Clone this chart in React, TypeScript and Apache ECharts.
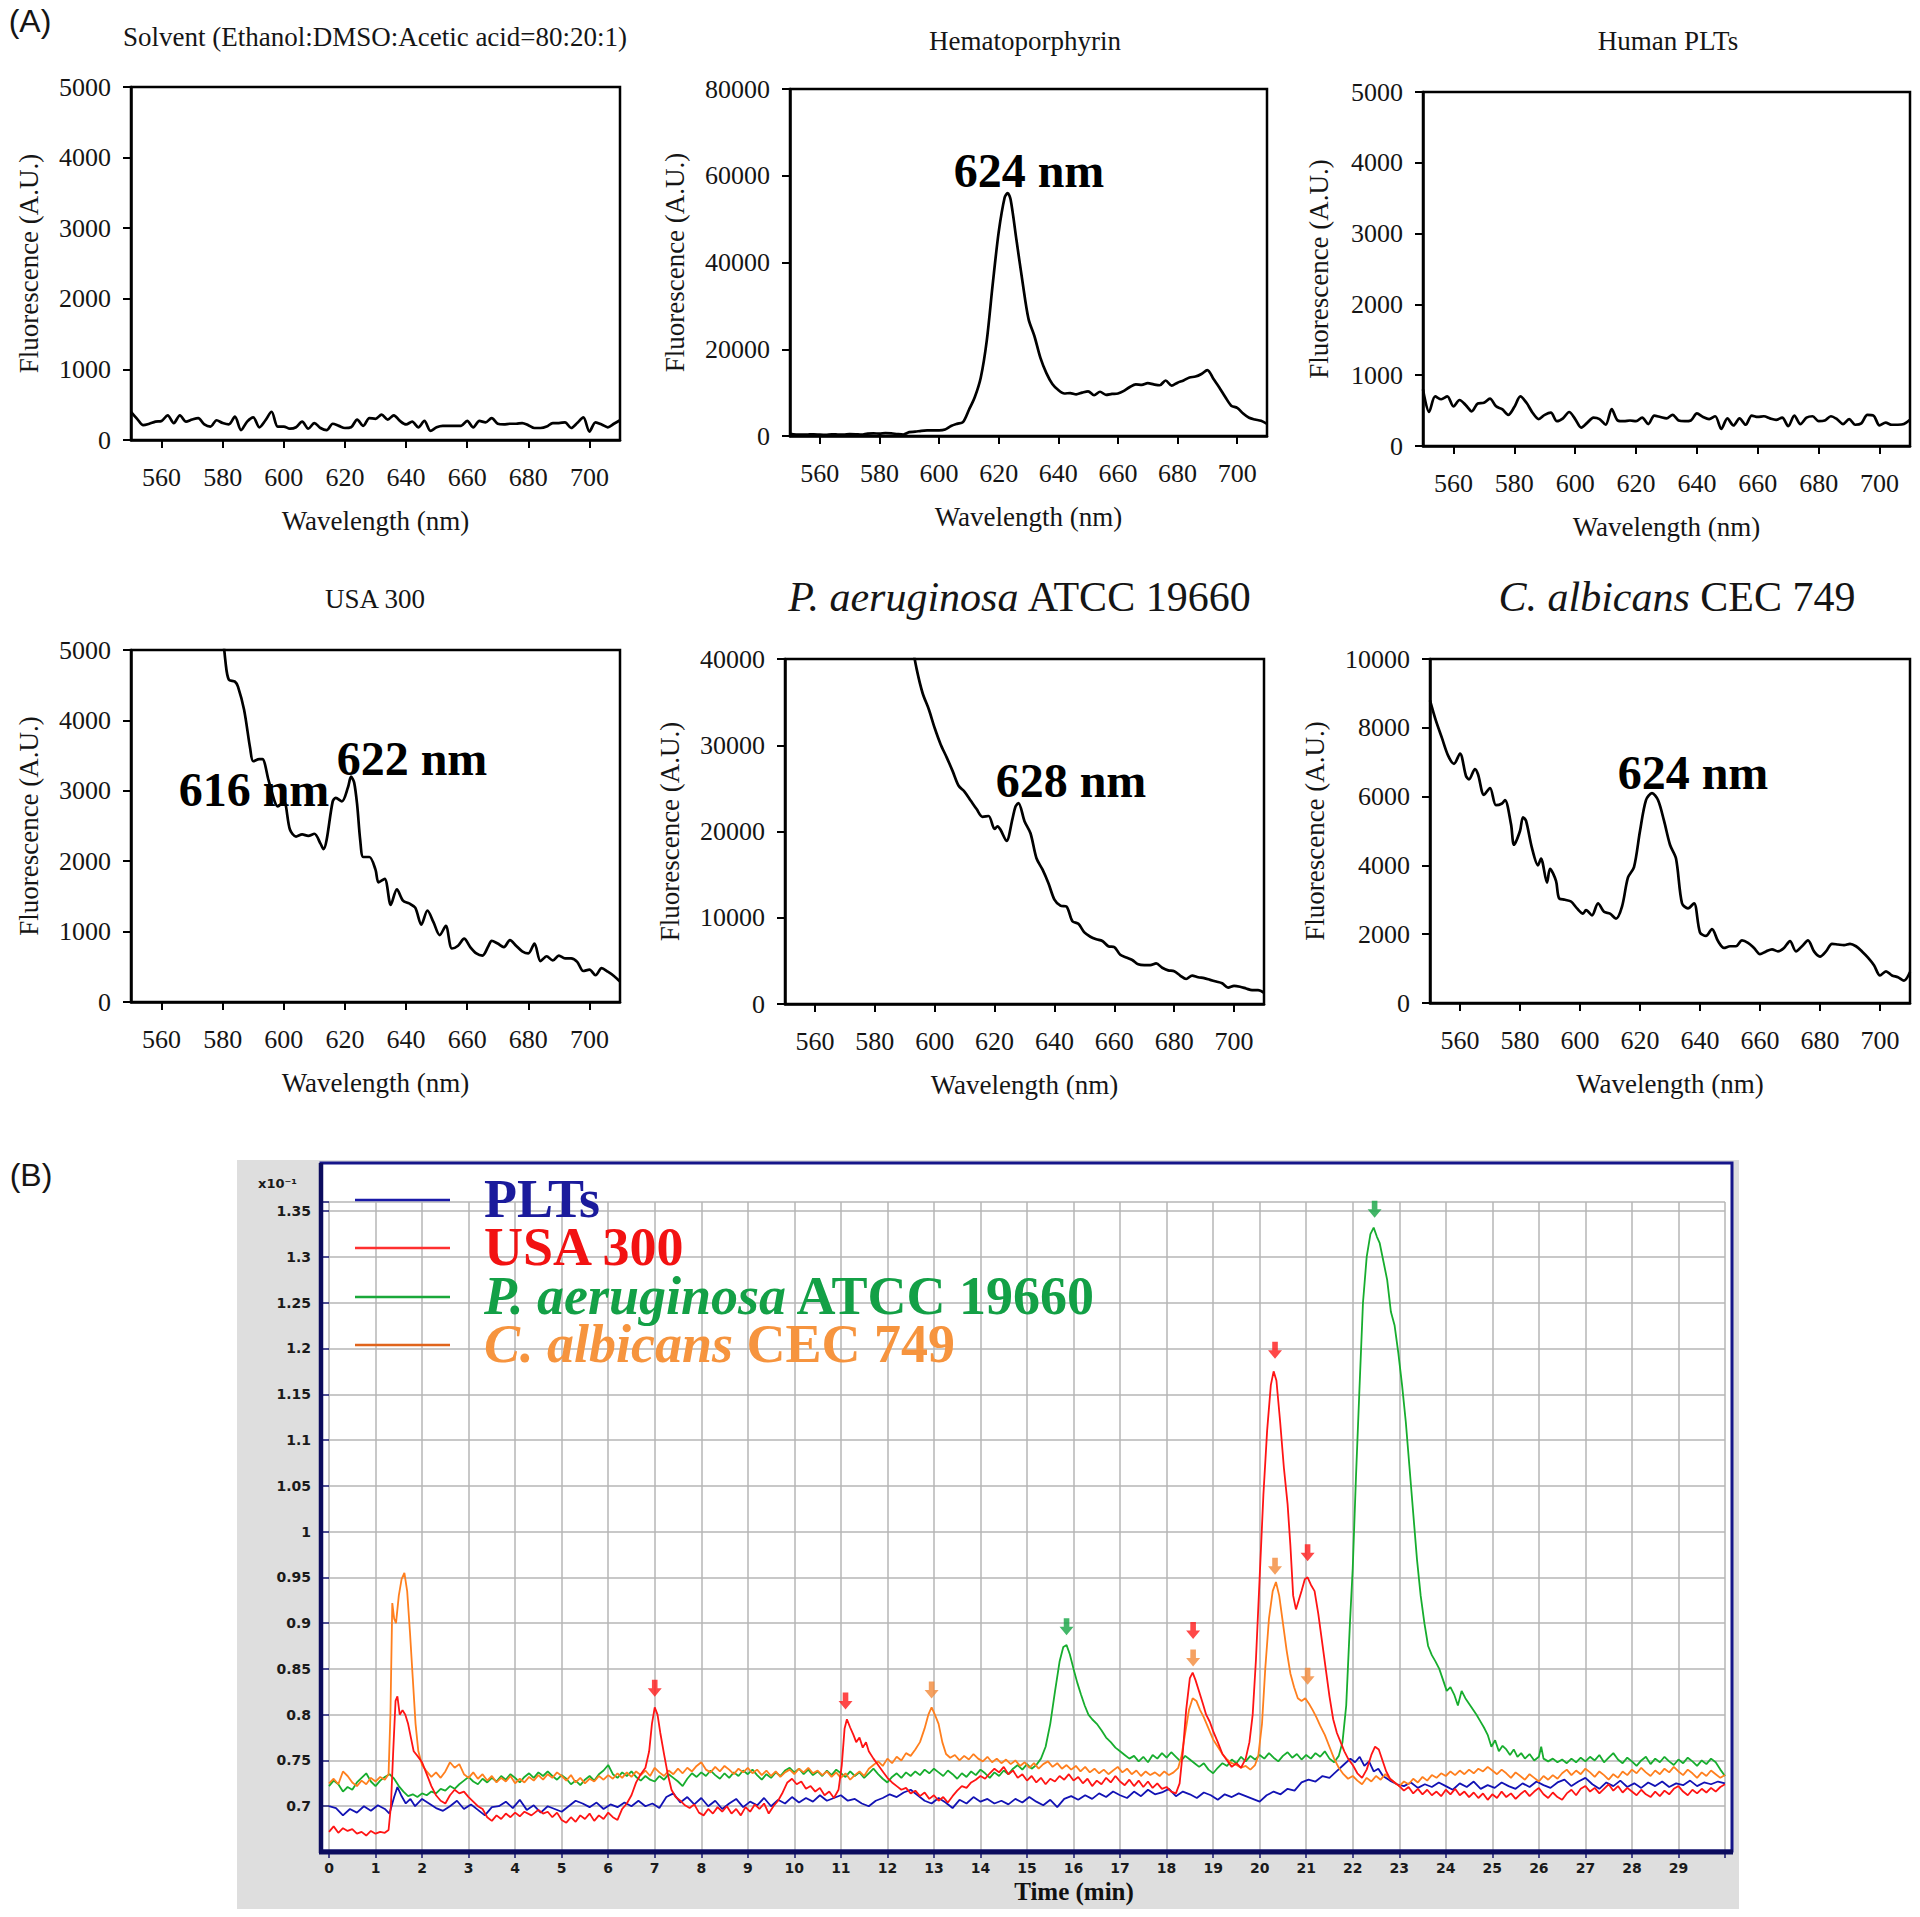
import React, { useEffect, useRef } from 'react';
import * as echarts from 'echarts';

const SERIF = '"Liberation Serif", "Times New Roman", serif';
const SANS = '"DejaVu Sans", Verdana, sans-serif';

// ---------- Panel A data ----------
const wavelengthTicks = [560, 580, 600, 620, 640, 660, 680, 700];

const solventSpectrum: [number, number][] = [
  [550, 400], [552, 300], [554, 210], [556, 230], [558, 260], [560, 270], [562, 350], [564, 240], [566, 350], [568, 260],
  [570, 290], [572, 310], [574, 220], [576, 190], [578, 280], [580, 240], [582, 220], [584, 330], [586, 140], [588, 260],
  [590, 320], [592, 180], [594, 280], [596, 400], [598, 190], [600, 190], [602, 160], [604, 180], [606, 260], [608, 160],
  [610, 240], [612, 170], [614, 140], [616, 230], [618, 200], [620, 170], [622, 180], [624, 290], [626, 200], [628, 310],
  [630, 300], [632, 360], [634, 290], [636, 350], [638, 270], [640, 220], [642, 260], [644, 180], [646, 270], [648, 130],
  [650, 180], [652, 200], [654, 200], [656, 200], [658, 200], [660, 270], [662, 180], [664, 270], [666, 250], [668, 310],
  [670, 230], [672, 220], [674, 230], [676, 230], [678, 240], [680, 210], [682, 170], [684, 170], [686, 190], [688, 240],
  [690, 240], [692, 250], [694, 170], [696, 240], [698, 320], [700, 120], [702, 250], [704, 220], [706, 180], [708, 230],
  [710, 280],
];

const hematoSpectrum: [number, number][] = [
  [550, 500], [552, 350], [554, 300], [556, 350], [558, 400], [560, 300], [562, 250], [564, 400], [566, 350], [568, 300],
  [570, 450], [572, 400], [574, 300], [576, 550], [578, 600], [580, 550], [582, 650], [584, 600], [586, 450], [588, 350],
  [590, 900], [592, 1000], [594, 1200], [596, 1300], [598, 1300], [600, 1300], [602, 1500], [604, 2300], [606, 2800], [608, 3200],
  [610, 6000], [612, 9000], [614, 13500], [616, 22000], [618, 35000], [620, 47000], [622, 55000], [623, 56000], [624, 54500], [626, 45000],
  [628, 35500], [630, 27000], [632, 23000], [634, 18000], [636, 14500], [638, 12000], [640, 10600], [642, 9800], [644, 9900], [646, 9600],
  [648, 10000], [650, 10300], [652, 9400], [654, 10200], [656, 9500], [658, 9700], [660, 9800], [662, 10400], [664, 11300], [666, 11900],
  [668, 11800], [670, 12200], [672, 11900], [674, 11700], [676, 12800], [678, 11600], [680, 12300], [682, 12800], [684, 13500], [686, 13700],
  [688, 14300], [690, 15200], [692, 13200], [694, 11200], [696, 9000], [698, 7000], [700, 6500], [702, 5200], [704, 4200], [706, 3800],
  [708, 3500], [710, 2800],
];

const humanPltSpectrum: [number, number][] = [
  [550, 800], [552, 480], [554, 700], [556, 660], [558, 700], [560, 560], [562, 650], [564, 580], [566, 490], [568, 600],
  [570, 610], [572, 670], [574, 560], [576, 520], [578, 440], [580, 550], [582, 700], [584, 610], [586, 470], [588, 380],
  [590, 440], [592, 470], [594, 350], [596, 390], [598, 480], [600, 380], [602, 260], [604, 330], [606, 400], [608, 380],
  [610, 300], [612, 520], [614, 360], [616, 350], [618, 360], [620, 350], [622, 400], [624, 310], [626, 430], [628, 410],
  [630, 390], [632, 440], [634, 360], [636, 350], [638, 360], [640, 460], [642, 410], [644, 380], [646, 420], [648, 240],
  [650, 390], [652, 290], [654, 390], [656, 300], [658, 430], [660, 410], [662, 420], [664, 390], [666, 370], [668, 400],
  [670, 280], [672, 430], [674, 310], [676, 400], [678, 420], [680, 350], [682, 360], [684, 420], [686, 380], [688, 310],
  [690, 380], [692, 300], [694, 320], [696, 440], [698, 430], [700, 290], [702, 330], [704, 300], [706, 300], [708, 310],
  [710, 370],
];

const usa300Spectrum: [number, number][] = [
  [579.5, 5500], [581, 4800], [582, 4580], [584, 4550], [585, 4480], [587, 4150], [589, 3600], [590, 3420], [592, 3450], [593, 3450],
  [595, 3150], [597, 2850], [598, 2780], [600, 2850], [602, 2450], [604, 2350], [606, 2380], [608, 2360], [610, 2390], [612, 2250],
  [613, 2170], [614, 2300], [616, 2850], [617, 2900], [619, 2850], [621, 3050], [622, 3200], [623, 3120], [624, 2800], [625, 2300],
  [626, 2060], [628, 2060], [630, 1880], [631, 1700], [633, 1750], [635, 1380], [637, 1600], [639, 1440], [641, 1400], [643, 1340],
  [645, 1100], [647, 1300], [649, 1130], [651, 950], [653, 1080], [655, 760], [657, 800], [659, 900], [661, 780], [663, 690],
  [665, 660], [667, 800], [668, 870], [670, 830], [672, 780], [674, 880], [676, 800], [678, 720], [680, 690], [682, 830],
  [684, 580], [686, 650], [688, 590], [690, 660], [692, 620], [694, 620], [696, 570], [698, 440], [700, 460], [702, 380],
  [704, 480], [706, 430], [708, 370], [710, 290],
];

const paeruginosaSpectrum: [number, number][] = [
  [592, 42500], [594, 38800], [596, 36000], [598, 34200], [600, 32000], [602, 30100], [604, 28600], [606, 27000], [608, 25300], [610, 24600],
  [612, 23600], [614, 22600], [616, 21700], [618, 21800], [620, 20300], [621, 20600], [622, 20200], [624, 18900], [626, 21500], [627, 22900],
  [628, 23300], [630, 21200], [632, 19800], [634, 16900], [636, 15600], [638, 14000], [640, 12100], [642, 11400], [644, 11300], [646, 9600],
  [648, 9300], [650, 8300], [652, 7800], [654, 7500], [656, 7300], [658, 6700], [660, 6600], [662, 5700], [664, 5400], [666, 5100],
  [668, 4600], [670, 4500], [672, 4500], [674, 4700], [676, 4200], [678, 3900], [680, 3800], [682, 3300], [684, 2900], [686, 3300],
  [688, 3100], [690, 3000], [692, 2800], [694, 2600], [696, 2400], [698, 1900], [700, 2100], [702, 2000], [704, 1800], [706, 1600],
  [708, 1600], [710, 1300],
];

const calbicansSpectrum: [number, number][] = [
  [550, 8800], [552, 8200], [554, 7700], [556, 7200], [558, 6950], [560, 7250], [562, 6600], [563, 6500], [565, 6800], [566, 6650],
  [568, 6050], [570, 6250], [572, 5750], [574, 5800], [575, 5900], [577, 5200], [578, 4600], [580, 5000], [581, 5400], [582, 5300],
  [584, 4500], [586, 4000], [587, 4200], [589, 3500], [590, 3900], [592, 3550], [593, 3050], [595, 3000], [597, 2950], [599, 2750],
  [601, 2600], [602, 2700], [604, 2550], [606, 2900], [608, 2650], [610, 2600], [612, 2450], [614, 2800], [616, 3650], [618, 3950],
  [620, 5000], [622, 5900], [624, 6100], [626, 5900], [628, 5300], [630, 4600], [632, 4200], [634, 2900], [636, 2750], [638, 2900],
  [640, 2050], [642, 1950], [644, 2150], [646, 1800], [648, 1600], [650, 1650], [652, 1650], [654, 1820], [656, 1750], [658, 1600],
  [660, 1420], [662, 1500], [664, 1560], [666, 1500], [668, 1600], [670, 1800], [672, 1500], [674, 1650], [676, 1820], [678, 1500],
  [680, 1350], [682, 1500], [684, 1720], [686, 1700], [688, 1680], [690, 1720], [692, 1650], [694, 1500], [696, 1320], [698, 1100],
  [700, 800], [702, 920], [704, 800], [706, 750], [708, 650], [710, 900],
];

const spectrumTitles = [
  'Solvent (Ethanol:DMSO:Acetic acid=80:20:1)',
  'Hematoporphyrin',
  'Human PLTs',
  'USA 300',
  '{i|P. aeruginosa} ATCC 19660',
  '{i|C. albicans} CEC 749',
];
const spectrumYMax = [5000, 80000, 5000, 5000, 40000, 10000];
const spectrumYStep = [1000, 20000, 1000, 1000, 10000, 2000];

// ---------- Panel B data (signal, x10^-1) ----------
const timeTicksMax = 30;

const pltsTrace: [number, number][] = [
  [0, 0.700], [0.15, 0.698], [0.3, 0.690], [0.45, 0.697], [0.6, 0.693], [0.75, 0.700], [0.9, 0.695], [1.05, 0.701], [1.2, 0.697], [1.3, 0.692],
  [1.4, 0.710], [1.47, 0.721], [1.55, 0.712], [1.65, 0.703], [1.75, 0.708], [1.85, 0.700], [2.0, 0.708], [2.15, 0.703], [2.3, 0.698], [2.45, 0.695],
  [2.6, 0.700], [2.75, 0.706], [2.9, 0.697], [3.05, 0.702], [3.2, 0.696], [3.35, 0.690], [3.5, 0.699], [3.65, 0.700], [3.8, 0.705], [3.95, 0.698],
  [4.1, 0.707], [4.25, 0.696], [4.4, 0.701], [4.55, 0.693], [4.7, 0.700], [4.85, 0.697], [5.0, 0.694], [5.15, 0.700], [5.3, 0.706], [5.45, 0.703],
  [5.6, 0.699], [5.75, 0.704], [5.9, 0.697], [6.05, 0.702], [6.2, 0.699], [6.35, 0.704], [6.5, 0.700], [6.65, 0.706], [6.8, 0.700], [6.95, 0.703],
  [7.1, 0.698], [7.25, 0.710], [7.4, 0.714], [7.55, 0.704], [7.7, 0.710], [7.85, 0.702], [8.0, 0.709], [8.15, 0.700], [8.3, 0.706], [8.45, 0.697],
  [8.6, 0.703], [8.75, 0.708], [8.9, 0.699], [9.05, 0.705], [9.2, 0.701], [9.35, 0.709], [9.5, 0.700], [9.65, 0.707], [9.8, 0.703], [9.95, 0.710],
  [10.1, 0.704], [10.25, 0.709], [10.4, 0.705], [10.55, 0.712], [10.7, 0.706], [10.85, 0.709], [11.0, 0.712], [11.15, 0.706], [11.3, 0.708], [11.45, 0.703],
  [11.6, 0.700], [11.75, 0.706], [11.9, 0.709], [12.05, 0.713], [12.2, 0.710], [12.35, 0.715], [12.5, 0.718], [12.65, 0.712], [12.8, 0.706], [12.95, 0.703],
  [13.1, 0.709], [13.25, 0.704], [13.4, 0.698], [13.55, 0.707], [13.7, 0.703], [13.85, 0.710], [14.0, 0.705], [14.15, 0.708], [14.3, 0.703], [14.45, 0.706],
  [14.6, 0.702], [14.75, 0.708], [14.9, 0.704], [15.05, 0.710], [15.2, 0.705], [15.35, 0.701], [15.5, 0.707], [15.65, 0.699], [15.8, 0.708], [15.95, 0.711],
  [16.1, 0.707], [16.25, 0.712], [16.4, 0.708], [16.55, 0.714], [16.7, 0.710], [16.85, 0.716], [17.0, 0.712], [17.15, 0.709], [17.3, 0.716], [17.45, 0.711],
  [17.6, 0.718], [17.75, 0.713], [17.9, 0.715], [18.05, 0.719], [18.2, 0.711], [18.35, 0.716], [18.5, 0.713], [18.65, 0.709], [18.8, 0.715], [18.95, 0.712],
  [19.1, 0.707], [19.25, 0.713], [19.4, 0.710], [19.55, 0.714], [19.7, 0.711], [19.85, 0.708], [20.0, 0.705], [20.15, 0.712], [20.3, 0.716], [20.45, 0.713],
  [20.6, 0.719], [20.75, 0.717], [20.9, 0.726], [21.05, 0.729], [21.2, 0.727], [21.35, 0.733], [21.5, 0.731], [21.65, 0.738], [21.8, 0.745], [21.95, 0.752],
  [22.05, 0.748], [22.15, 0.754], [22.25, 0.744], [22.35, 0.749], [22.45, 0.738], [22.55, 0.741], [22.65, 0.733], [22.8, 0.728], [22.95, 0.724], [23.1, 0.722],
  [23.25, 0.726], [23.4, 0.720], [23.55, 0.724], [23.7, 0.721], [23.85, 0.726], [24.0, 0.722], [24.15, 0.718], [24.3, 0.725], [24.45, 0.721], [24.6, 0.727],
  [24.75, 0.719], [24.9, 0.723], [25.05, 0.720], [25.2, 0.726], [25.35, 0.722], [25.5, 0.719], [25.65, 0.725], [25.8, 0.721], [25.95, 0.727], [26.1, 0.723],
  [26.25, 0.720], [26.4, 0.726], [26.55, 0.729], [26.7, 0.722], [26.85, 0.727], [27.0, 0.731], [27.15, 0.724], [27.3, 0.719], [27.45, 0.726], [27.6, 0.722],
  [27.75, 0.728], [27.9, 0.721], [28.05, 0.725], [28.2, 0.720], [28.35, 0.726], [28.5, 0.722], [28.65, 0.727], [28.8, 0.721], [28.95, 0.725], [29.1, 0.723],
  [29.25, 0.728], [29.4, 0.722], [29.55, 0.726], [29.7, 0.724], [29.85, 0.727], [30.0, 0.725],
];

const usa300Trace: [number, number][] = [
  [0, 0.672], [0.1, 0.678], [0.2, 0.671], [0.3, 0.676], [0.4, 0.673], [0.5, 0.675], [0.6, 0.670], [0.7, 0.672], [0.8, 0.668], [0.9, 0.673],
  [1.0, 0.670], [1.1, 0.672], [1.2, 0.671], [1.28, 0.674], [1.33, 0.700], [1.38, 0.760], [1.43, 0.815], [1.47, 0.820], [1.52, 0.800], [1.58, 0.805],
  [1.64, 0.800], [1.7, 0.790], [1.76, 0.775], [1.82, 0.760], [1.9, 0.755], [2.0, 0.748], [2.1, 0.735], [2.2, 0.722], [2.3, 0.712], [2.4, 0.706],
  [2.5, 0.703], [2.6, 0.712], [2.7, 0.718], [2.8, 0.714], [2.9, 0.716], [3.0, 0.710], [3.1, 0.705], [3.2, 0.700], [3.3, 0.697], [3.4, 0.688],
  [3.5, 0.684], [3.6, 0.690], [3.7, 0.686], [3.8, 0.692], [3.9, 0.688], [4.0, 0.693], [4.1, 0.689], [4.2, 0.694], [4.35, 0.690], [4.5, 0.696],
  [4.6, 0.692], [4.7, 0.694], [4.8, 0.688], [4.9, 0.693], [5.0, 0.685], [5.1, 0.682], [5.2, 0.688], [5.3, 0.683], [5.4, 0.690], [5.5, 0.686],
  [5.6, 0.692], [5.7, 0.684], [5.8, 0.690], [5.9, 0.686], [6.0, 0.693], [6.1, 0.688], [6.2, 0.685], [6.3, 0.697], [6.4, 0.703], [6.5, 0.712],
  [6.6, 0.726], [6.7, 0.735], [6.8, 0.742], [6.88, 0.760], [6.94, 0.790], [7.0, 0.808], [7.06, 0.800], [7.12, 0.780], [7.2, 0.757], [7.28, 0.735],
  [7.36, 0.718], [7.45, 0.710], [7.55, 0.706], [7.65, 0.701], [7.75, 0.698], [7.85, 0.702], [7.95, 0.693], [8.05, 0.690], [8.15, 0.697], [8.25, 0.692],
  [8.35, 0.699], [8.45, 0.694], [8.55, 0.700], [8.65, 0.692], [8.75, 0.697], [8.85, 0.690], [8.95, 0.699], [9.05, 0.694], [9.15, 0.702], [9.25, 0.697],
  [9.35, 0.703], [9.45, 0.692], [9.55, 0.700], [9.65, 0.706], [9.75, 0.715], [9.85, 0.726], [9.95, 0.730], [10.05, 0.724], [10.15, 0.727], [10.25, 0.719],
  [10.35, 0.722], [10.45, 0.716], [10.55, 0.720], [10.65, 0.712], [10.75, 0.716], [10.85, 0.709], [10.95, 0.718], [11.02, 0.745], [11.08, 0.785], [11.13, 0.795],
  [11.2, 0.786], [11.27, 0.778], [11.33, 0.770], [11.4, 0.775], [11.47, 0.764], [11.54, 0.770], [11.6, 0.760], [11.7, 0.752], [11.8, 0.745], [11.9, 0.738],
  [12.0, 0.731], [12.1, 0.726], [12.2, 0.722], [12.3, 0.718], [12.4, 0.720], [12.5, 0.714], [12.6, 0.717], [12.7, 0.711], [12.8, 0.715], [12.9, 0.708],
  [13.0, 0.712], [13.1, 0.706], [13.2, 0.710], [13.3, 0.704], [13.4, 0.711], [13.5, 0.717], [13.6, 0.722], [13.7, 0.720], [13.8, 0.726], [13.9, 0.729],
  [14.0, 0.733], [14.1, 0.730], [14.2, 0.736], [14.3, 0.741], [14.4, 0.737], [14.5, 0.743], [14.6, 0.735], [14.7, 0.739], [14.8, 0.731], [14.9, 0.735],
  [15.0, 0.728], [15.1, 0.733], [15.2, 0.726], [15.3, 0.731], [15.4, 0.724], [15.5, 0.730], [15.6, 0.727], [15.7, 0.733], [15.8, 0.729], [15.9, 0.735],
  [16.0, 0.728], [16.1, 0.732], [16.2, 0.725], [16.3, 0.730], [16.4, 0.722], [16.5, 0.728], [16.6, 0.724], [16.7, 0.731], [16.8, 0.726], [16.9, 0.733],
  [17.0, 0.727], [17.1, 0.723], [17.2, 0.729], [17.3, 0.722], [17.4, 0.728], [17.5, 0.721], [17.6, 0.727], [17.7, 0.720], [17.8, 0.725], [17.9, 0.719],
  [18.0, 0.721], [18.1, 0.716], [18.2, 0.714], [18.28, 0.725], [18.35, 0.760], [18.42, 0.805], [18.5, 0.840], [18.56, 0.846], [18.62, 0.838], [18.7, 0.825],
  [18.78, 0.812], [18.85, 0.800], [18.93, 0.792], [19.0, 0.782], [19.1, 0.770], [19.2, 0.757], [19.3, 0.750], [19.4, 0.743], [19.5, 0.747], [19.6, 0.742],
  [19.7, 0.752], [19.78, 0.770], [19.85, 0.800], [19.92, 0.860], [20.0, 0.950], [20.08, 1.040], [20.16, 1.110], [20.24, 1.160], [20.3, 1.175], [20.36, 1.165],
  [20.44, 1.120], [20.52, 1.070], [20.6, 1.030], [20.66, 0.985], [20.72, 0.930], [20.78, 0.915], [20.84, 0.925], [20.9, 0.935], [20.97, 0.948], [21.03, 0.950],
  [21.1, 0.942], [21.18, 0.935], [21.26, 0.910], [21.34, 0.880], [21.42, 0.850], [21.5, 0.820], [21.58, 0.795], [21.66, 0.780], [21.74, 0.770], [21.82, 0.760],
  [21.9, 0.752], [22.0, 0.745], [22.1, 0.736], [22.2, 0.731], [22.3, 0.740], [22.4, 0.756], [22.48, 0.765], [22.56, 0.762], [22.64, 0.750], [22.72, 0.738],
  [22.8, 0.730], [22.9, 0.726], [23.0, 0.722], [23.1, 0.717], [23.2, 0.721], [23.3, 0.714], [23.4, 0.719], [23.5, 0.713], [23.6, 0.718], [23.7, 0.712],
  [23.8, 0.716], [23.9, 0.711], [24.0, 0.718], [24.1, 0.713], [24.2, 0.719], [24.3, 0.712], [24.4, 0.716], [24.5, 0.710], [24.6, 0.715], [24.7, 0.709],
  [24.8, 0.714], [24.9, 0.707], [25.0, 0.713], [25.1, 0.709], [25.2, 0.716], [25.3, 0.710], [25.4, 0.714], [25.5, 0.708], [25.6, 0.713], [25.7, 0.717],
  [25.8, 0.711], [25.9, 0.716], [26.0, 0.720], [26.1, 0.713], [26.2, 0.709], [26.3, 0.715], [26.4, 0.710], [26.5, 0.707], [26.6, 0.714], [26.7, 0.718],
  [26.8, 0.712], [26.9, 0.719], [27.0, 0.722], [27.1, 0.716], [27.2, 0.720], [27.3, 0.714], [27.4, 0.719], [27.5, 0.724], [27.6, 0.717], [27.7, 0.722],
  [27.8, 0.715], [27.9, 0.720], [28.0, 0.716], [28.1, 0.712], [28.2, 0.718], [28.3, 0.713], [28.4, 0.710], [28.5, 0.716], [28.6, 0.711], [28.7, 0.717],
  [28.8, 0.713], [28.9, 0.719], [29.0, 0.722], [29.1, 0.716], [29.2, 0.712], [29.3, 0.718], [29.4, 0.714], [29.5, 0.719], [29.6, 0.715], [29.7, 0.720],
  [29.8, 0.716], [29.9, 0.721], [30.0, 0.724],
];

const calbicansTrace: [number, number][] = [
  [0, 0.725], [0.1, 0.730], [0.2, 0.724], [0.3, 0.738], [0.4, 0.733], [0.5, 0.726], [0.6, 0.722], [0.7, 0.728], [0.8, 0.724], [0.9, 0.731],
  [1.0, 0.727], [1.1, 0.732], [1.2, 0.729], [1.28, 0.735], [1.32, 0.800], [1.36, 0.922], [1.4, 0.905], [1.44, 0.900], [1.5, 0.930], [1.56, 0.948],
  [1.62, 0.955], [1.68, 0.935], [1.74, 0.890], [1.8, 0.840], [1.86, 0.790], [1.92, 0.760], [2.0, 0.745], [2.1, 0.738], [2.2, 0.732], [2.3, 0.737],
  [2.4, 0.731], [2.5, 0.738], [2.6, 0.748], [2.7, 0.742], [2.8, 0.746], [2.9, 0.735], [3.0, 0.731], [3.1, 0.737], [3.2, 0.730], [3.3, 0.735],
  [3.4, 0.728], [3.5, 0.733], [3.6, 0.726], [3.7, 0.731], [3.8, 0.727], [3.9, 0.733], [4.0, 0.725], [4.1, 0.730], [4.2, 0.726], [4.3, 0.732],
  [4.4, 0.728], [4.5, 0.734], [4.6, 0.729], [4.7, 0.735], [4.8, 0.731], [4.9, 0.737], [5.0, 0.733], [5.1, 0.728], [5.2, 0.734], [5.3, 0.726],
  [5.4, 0.731], [5.5, 0.725], [5.6, 0.730], [5.7, 0.727], [5.8, 0.733], [5.9, 0.729], [6.0, 0.734], [6.1, 0.730], [6.2, 0.736], [6.3, 0.731],
  [6.4, 0.737], [6.5, 0.732], [6.6, 0.738], [6.7, 0.734], [6.8, 0.739], [6.9, 0.733], [7.0, 0.742], [7.1, 0.737], [7.2, 0.733], [7.3, 0.739],
  [7.4, 0.735], [7.5, 0.741], [7.6, 0.736], [7.7, 0.742], [7.8, 0.738], [7.9, 0.744], [8.0, 0.748], [8.1, 0.740], [8.2, 0.737], [8.3, 0.743],
  [8.4, 0.738], [8.5, 0.744], [8.6, 0.740], [8.7, 0.735], [8.8, 0.741], [8.9, 0.737], [9.0, 0.742], [9.1, 0.736], [9.2, 0.740], [9.3, 0.734],
  [9.4, 0.739], [9.5, 0.733], [9.6, 0.738], [9.7, 0.732], [9.8, 0.737], [9.9, 0.740], [10.0, 0.735], [10.1, 0.741], [10.2, 0.737], [10.3, 0.742],
  [10.4, 0.736], [10.5, 0.739], [10.6, 0.734], [10.7, 0.738], [10.8, 0.732], [10.9, 0.737], [11.0, 0.731], [11.1, 0.736], [11.2, 0.729], [11.3, 0.734],
  [11.4, 0.738], [11.5, 0.733], [11.6, 0.741], [11.7, 0.745], [11.8, 0.749], [11.9, 0.744], [12.0, 0.752], [12.1, 0.747], [12.2, 0.754], [12.3, 0.750],
  [12.4, 0.758], [12.5, 0.755], [12.6, 0.762], [12.7, 0.770], [12.8, 0.785], [12.88, 0.800], [12.95, 0.808], [13.02, 0.800], [13.1, 0.790], [13.18, 0.770],
  [13.26, 0.757], [13.35, 0.753], [13.45, 0.756], [13.55, 0.750], [13.65, 0.755], [13.75, 0.751], [13.85, 0.757], [13.95, 0.752], [14.05, 0.749], [14.15, 0.754],
  [14.25, 0.748], [14.35, 0.752], [14.45, 0.747], [14.55, 0.751], [14.65, 0.746], [14.75, 0.750], [14.85, 0.744], [14.95, 0.748], [15.05, 0.742], [15.15, 0.747],
  [15.25, 0.741], [15.35, 0.746], [15.45, 0.749], [15.55, 0.743], [15.65, 0.747], [15.75, 0.741], [15.85, 0.745], [15.95, 0.740], [16.05, 0.744], [16.15, 0.738],
  [16.25, 0.743], [16.35, 0.737], [16.45, 0.741], [16.55, 0.736], [16.65, 0.740], [16.75, 0.735], [16.85, 0.739], [16.95, 0.743], [17.05, 0.737], [17.15, 0.741],
  [17.25, 0.735], [17.35, 0.739], [17.45, 0.733], [17.55, 0.738], [17.65, 0.734], [17.75, 0.737], [17.85, 0.733], [17.95, 0.738], [18.05, 0.734], [18.15, 0.737],
  [18.25, 0.742], [18.32, 0.755], [18.4, 0.780], [18.48, 0.805], [18.56, 0.818], [18.64, 0.815], [18.72, 0.805], [18.8, 0.797], [18.9, 0.785], [19.0, 0.773],
  [19.1, 0.765], [19.2, 0.757], [19.3, 0.751], [19.4, 0.747], [19.5, 0.745], [19.6, 0.742], [19.7, 0.744], [19.8, 0.740], [19.9, 0.745], [19.97, 0.755],
  [20.05, 0.790], [20.12, 0.850], [20.2, 0.905], [20.28, 0.935], [20.35, 0.945], [20.42, 0.930], [20.5, 0.900], [20.58, 0.870], [20.66, 0.845], [20.74, 0.830],
  [20.82, 0.818], [20.9, 0.815], [20.98, 0.818], [21.06, 0.812], [21.14, 0.805], [21.22, 0.797], [21.3, 0.788], [21.4, 0.778], [21.5, 0.765], [21.6, 0.752],
  [21.7, 0.742], [21.8, 0.735], [21.9, 0.730], [22.0, 0.733], [22.1, 0.728], [22.2, 0.724], [22.3, 0.731], [22.4, 0.727], [22.5, 0.733], [22.6, 0.729],
  [22.7, 0.735], [22.8, 0.730], [22.9, 0.726], [23.0, 0.722], [23.1, 0.727], [23.2, 0.724], [23.3, 0.730], [23.4, 0.726], [23.5, 0.732], [23.6, 0.728],
  [23.7, 0.734], [23.8, 0.731], [23.9, 0.736], [24.0, 0.733], [24.1, 0.738], [24.2, 0.734], [24.3, 0.739], [24.4, 0.735], [24.5, 0.740], [24.6, 0.736],
  [24.7, 0.741], [24.8, 0.738], [24.9, 0.743], [25.0, 0.739], [25.1, 0.735], [25.2, 0.740], [25.3, 0.736], [25.4, 0.731], [25.5, 0.737], [25.6, 0.733],
  [25.7, 0.729], [25.8, 0.735], [25.9, 0.731], [26.0, 0.727], [26.1, 0.733], [26.2, 0.729], [26.3, 0.734], [26.4, 0.730], [26.5, 0.736], [26.6, 0.740],
  [26.7, 0.734], [26.8, 0.739], [26.9, 0.735], [27.0, 0.741], [27.1, 0.737], [27.2, 0.732], [27.3, 0.738], [27.4, 0.734], [27.5, 0.729], [27.6, 0.735],
  [27.7, 0.731], [27.8, 0.738], [27.9, 0.734], [28.0, 0.740], [28.1, 0.736], [28.2, 0.742], [28.3, 0.737], [28.4, 0.733], [28.5, 0.739], [28.6, 0.735],
  [28.7, 0.741], [28.8, 0.737], [28.9, 0.743], [29.0, 0.738], [29.1, 0.734], [29.2, 0.740], [29.3, 0.736], [29.4, 0.731], [29.5, 0.737], [29.6, 0.733],
  [29.7, 0.739], [29.8, 0.735], [29.9, 0.731], [30.0, 0.734],
];

const paeruginosaTrace: [number, number][] = [
  [0, 0.722], [0.1, 0.728], [0.2, 0.724], [0.3, 0.716], [0.4, 0.721], [0.5, 0.718], [0.6, 0.726], [0.7, 0.731], [0.8, 0.736], [0.9, 0.727],
  [1.0, 0.722], [1.1, 0.728], [1.2, 0.732], [1.3, 0.735], [1.4, 0.730], [1.5, 0.722], [1.6, 0.716], [1.7, 0.711], [1.8, 0.713], [1.9, 0.710],
  [2.0, 0.714], [2.1, 0.712], [2.2, 0.716], [2.3, 0.714], [2.4, 0.719], [2.5, 0.717], [2.6, 0.722], [2.7, 0.719], [2.8, 0.724], [2.9, 0.728],
  [3.0, 0.732], [3.1, 0.727], [3.2, 0.724], [3.3, 0.730], [3.4, 0.726], [3.5, 0.731], [3.6, 0.727], [3.7, 0.733], [3.8, 0.729], [3.9, 0.735],
  [4.0, 0.731], [4.1, 0.726], [4.2, 0.732], [4.3, 0.736], [4.4, 0.731], [4.5, 0.737], [4.6, 0.733], [4.7, 0.738], [4.8, 0.733], [4.9, 0.729],
  [5.0, 0.734], [5.1, 0.730], [5.2, 0.724], [5.3, 0.728], [5.4, 0.723], [5.5, 0.729], [5.6, 0.733], [5.7, 0.728], [5.8, 0.735], [5.9, 0.739],
  [6.0, 0.745], [6.1, 0.735], [6.2, 0.731], [6.3, 0.737], [6.4, 0.733], [6.5, 0.738], [6.6, 0.732], [6.7, 0.728], [6.8, 0.733], [6.9, 0.729],
  [7.0, 0.727], [7.1, 0.733], [7.2, 0.729], [7.3, 0.735], [7.4, 0.731], [7.5, 0.727], [7.6, 0.722], [7.7, 0.730], [7.8, 0.736], [7.9, 0.732],
  [8.0, 0.737], [8.1, 0.733], [8.2, 0.739], [8.3, 0.734], [8.4, 0.730], [8.5, 0.736], [8.6, 0.731], [8.7, 0.737], [8.8, 0.733], [8.9, 0.739],
  [9.0, 0.735], [9.1, 0.740], [9.2, 0.734], [9.3, 0.729], [9.4, 0.735], [9.5, 0.731], [9.6, 0.737], [9.7, 0.733], [9.8, 0.739], [9.9, 0.742],
  [10.0, 0.737], [10.1, 0.741], [10.2, 0.735], [10.3, 0.740], [10.4, 0.734], [10.5, 0.738], [10.6, 0.733], [10.7, 0.739], [10.8, 0.734], [10.9, 0.740],
  [11.0, 0.736], [11.1, 0.732], [11.2, 0.738], [11.3, 0.733], [11.4, 0.737], [11.5, 0.731], [11.6, 0.736], [11.7, 0.741], [11.8, 0.735], [11.9, 0.730],
  [12.0, 0.726], [12.1, 0.732], [12.2, 0.736], [12.3, 0.731], [12.4, 0.737], [12.5, 0.733], [12.6, 0.738], [12.7, 0.734], [12.8, 0.740], [12.9, 0.736],
  [13.0, 0.741], [13.1, 0.737], [13.2, 0.733], [13.3, 0.739], [13.4, 0.735], [13.5, 0.730], [13.6, 0.736], [13.7, 0.732], [13.8, 0.738], [13.9, 0.734],
  [14.0, 0.740], [14.1, 0.736], [14.2, 0.731], [14.3, 0.737], [14.4, 0.733], [14.5, 0.739], [14.6, 0.735], [14.7, 0.741], [14.8, 0.745], [14.9, 0.740],
  [15.0, 0.746], [15.1, 0.741], [15.2, 0.745], [15.3, 0.752], [15.4, 0.765], [15.5, 0.790], [15.6, 0.825], [15.7, 0.858], [15.78, 0.874], [15.85, 0.876],
  [15.92, 0.866], [16.0, 0.850], [16.08, 0.835], [16.16, 0.822], [16.24, 0.810], [16.32, 0.800], [16.4, 0.795], [16.5, 0.790], [16.6, 0.783], [16.7, 0.775],
  [16.8, 0.770], [16.9, 0.764], [17.0, 0.760], [17.1, 0.756], [17.2, 0.752], [17.3, 0.755], [17.4, 0.749], [17.5, 0.754], [17.6, 0.748], [17.7, 0.756],
  [17.8, 0.752], [17.9, 0.758], [18.0, 0.753], [18.1, 0.759], [18.2, 0.754], [18.3, 0.749], [18.4, 0.755], [18.5, 0.751], [18.6, 0.747], [18.7, 0.743],
  [18.8, 0.747], [18.9, 0.740], [19.0, 0.736], [19.1, 0.742], [19.2, 0.747], [19.3, 0.744], [19.4, 0.751], [19.5, 0.747], [19.6, 0.754], [19.7, 0.749],
  [19.8, 0.755], [19.9, 0.751], [20.0, 0.756], [20.1, 0.752], [20.2, 0.758], [20.3, 0.753], [20.4, 0.749], [20.5, 0.755], [20.6, 0.759], [20.7, 0.753],
  [20.8, 0.757], [20.9, 0.751], [21.0, 0.756], [21.1, 0.752], [21.2, 0.758], [21.3, 0.754], [21.4, 0.760], [21.5, 0.752], [21.6, 0.748], [21.7, 0.755],
  [21.78, 0.770], [21.86, 0.810], [21.94, 0.900], [22.0, 0.960], [22.07, 1.060], [22.14, 1.150], [22.22, 1.250], [22.3, 1.300], [22.38, 1.325], [22.45, 1.332],
  [22.52, 1.322], [22.58, 1.315], [22.66, 1.295], [22.74, 1.275], [22.82, 1.240], [22.9, 1.225], [22.98, 1.195], [23.06, 1.160], [23.14, 1.120], [23.22, 1.070],
  [23.3, 1.020], [23.38, 0.970], [23.46, 0.930], [23.54, 0.900], [23.62, 0.875], [23.7, 0.865], [23.78, 0.858], [23.86, 0.850], [23.94, 0.838], [24.02, 0.826],
  [24.1, 0.830], [24.18, 0.822], [24.26, 0.810], [24.34, 0.826], [24.42, 0.818], [24.5, 0.812], [24.58, 0.806], [24.66, 0.800], [24.74, 0.793], [24.82, 0.786],
  [24.9, 0.778], [24.98, 0.765], [25.06, 0.772], [25.14, 0.760], [25.22, 0.766], [25.3, 0.762], [25.38, 0.756], [25.46, 0.762], [25.54, 0.754], [25.62, 0.758],
  [25.7, 0.752], [25.8, 0.757], [25.9, 0.750], [26.0, 0.754], [26.05, 0.765], [26.1, 0.752], [26.2, 0.749], [26.3, 0.752], [26.4, 0.748], [26.5, 0.751],
  [26.6, 0.747], [26.7, 0.752], [26.8, 0.748], [26.9, 0.753], [27.0, 0.749], [27.1, 0.754], [27.2, 0.750], [27.3, 0.756], [27.4, 0.748], [27.5, 0.753],
  [27.6, 0.758], [27.7, 0.751], [27.8, 0.747], [27.9, 0.753], [28.0, 0.749], [28.1, 0.744], [28.2, 0.750], [28.3, 0.754], [28.4, 0.746], [28.5, 0.752],
  [28.6, 0.748], [28.7, 0.754], [28.8, 0.749], [28.9, 0.745], [29.0, 0.751], [29.1, 0.747], [29.2, 0.753], [29.3, 0.749], [29.4, 0.744], [29.5, 0.750],
  [29.6, 0.746], [29.7, 0.752], [29.8, 0.748], [29.9, 0.740], [30.0, 0.733],
];

// peak markers (time, signal position of the arrow)
const usa300Arrows: [number, number][] = [[7.0, 0.829], [11.1, 0.815], [18.57, 0.892], [20.33, 1.198], [21.03, 0.977]];
const calbicansArrows: [number, number][] = [[12.95, 0.827], [18.57, 0.862], [20.33, 0.962], [21.03, 0.842]];
const paeruginosaArrows: [number, number][] = [[15.85, 0.896], [22.47, 1.352]];

const legendNames = ['PLTs', 'USA 300', '{i|P. aeruginosa} ATCC 19660', '{i|C. albicans} CEC 749'];

// ---------- layout / style ----------
const spectrumGrids = [
  { left: 131, top: 87, width: 489, height: 353, nameGap: 89, title: [375, 37], titleSize: 27 },
  { left: 790, top: 89, width: 477, height: 347, nameGap: 102, title: [1025, 41], titleSize: 27 },
  { left: 1423, top: 92, width: 487, height: 354, nameGap: 91, title: [1668, 41], titleSize: 27 },
  { left: 131, top: 650, width: 489, height: 352, nameGap: 89, title: [375, 599], titleSize: 27 },
  { left: 785, top: 659, width: 479, height: 345, nameGap: 102, title: [1020, 597], titleSize: 42 },
  { left: 1430, top: 659, width: 480, height: 344, nameGap: 102, title: [1677, 597], titleSize: 42 },
];
const spectra = [solventSpectrum, hematoSpectrum, humanPltSpectrum, usa300Spectrum, paeruginosaSpectrum, calbicansSpectrum];
const annotations: { text: string; x: number; y: number }[] = [
  { text: '624 nm', x: 1029, y: 170 },
  { text: '616 nm', x: 254, y: 789 },
  { text: '622 nm', x: 412, y: 758 },
  { text: '628 nm', x: 1071, y: 780 },
  { text: '624 nm', x: 1693, y: 772 },
];

const traceColors = ['#1212b4', '#ff1414', '#17ad2e', '#ff7f1e'];
const legendTextColors = ['#1b1b9c', '#f21212', '#13a046', '#f6943e'];
const legendLineColors = ['#1a1aa8', '#ff3030', '#1aa83a', '#e0641c'];
const arrowPath = 'path://M3,0L7,0L7,6L10,6L5,12L0,6L3,6Z';

function textEl(text: string, x: number, y: number, opts: any = {}) {
  const style: any = {
    text,
    x: 0,
    y: 0,
    fill: opts.fill || '#151515',
    fontFamily: opts.fontFamily || SERIF,
    fontSize: opts.fontSize || 27,
    fontWeight: opts.fontWeight || 'normal',
    fontStyle: opts.fontStyle || 'normal',
    align: opts.align || 'center',
    textAlign: opts.align || 'center',
    verticalAlign: 'middle',
    textVerticalAlign: 'middle',
  };
  if (opts.lineHeight) style.lineHeight = opts.lineHeight;
  if (opts.rich) style.rich = opts.rich;
  return { type: 'text', x, y, z: opts.z ?? 30, silent: true, style };
}

function buildOption(): any {
  const grid: any[] = [];
  const xAxis: any[] = [];
  const yAxis: any[] = [];
  const series: any[] = [];
  const graphic: any[] = [];

  spectrumGrids.forEach((g, i) => {
    grid.push({
      left: g.left, top: g.top, width: g.width, height: g.height,
      show: true, borderColor: '#000', borderWidth: 2.5, backgroundColor: 'transparent',
    });
    xAxis.push({
      type: 'value', gridIndex: i, min: 550, max: 710,
      name: 'Wavelength (nm)', nameLocation: 'middle', nameGap: 67,
      nameTextStyle: { fontFamily: SERIF, fontSize: 27, color: '#151515' },
      axisLine: { show: true, onZero: false, lineStyle: { color: '#000', width: 2.5 } },
      axisTick: { show: true, length: 8, customValues: wavelengthTicks, lineStyle: { color: '#000', width: 2 } },
      axisLabel: { show: true, customValues: wavelengthTicks, fontFamily: SERIF, fontSize: 26, color: '#151515', margin: 24 },
      splitLine: { show: false },
    });
    yAxis.push({
      type: 'value', gridIndex: i, min: 0, max: spectrumYMax[i], interval: spectrumYStep[i],
      name: 'Fluorescence (A.U.)', nameLocation: 'middle', nameGap: g.nameGap,
      nameTextStyle: { fontFamily: SERIF, fontSize: 27, color: '#151515' },
      axisLine: { show: true, onZero: false, lineStyle: { color: '#000', width: 2.5 } },
      axisTick: { show: true, length: 8, lineStyle: { color: '#000', width: 2 } },
      axisLabel: {
        fontFamily: SERIF, fontSize: 26, color: '#151515', margin: 20,
        formatter: (v: number) => String(Math.round(v)),
      },
      splitLine: { show: false },
    });
    series.push({
      type: 'line', xAxisIndex: i, yAxisIndex: i, data: spectra[i],
      showSymbol: false, smooth: 0.3, clip: true, silent: true,
      lineStyle: { color: '#000', width: 2.7 },
    });
    const italic = spectrumTitles[i].startsWith('{i|');
    graphic.push(textEl(spectrumTitles[i], g.title[0], g.title[1], {
      fontSize: g.titleSize,
      rich: italic ? { i: { fontStyle: 'italic', fontFamily: SERIF, fontSize: g.titleSize, fill: '#151515' } } : undefined,
    }));
  });

  annotations.forEach((a) => {
    graphic.push(textEl(a.text, a.x, a.y, { fontSize: 48, fontWeight: 'bold', fill: '#000', lineHeight: 40 }));
  });
  graphic.push(textEl('(A)', 30, 21, { fontFamily: '"Liberation Sans", Arial, sans-serif', fontSize: 32 }));
  graphic.push(textEl('(B)', 31, 1175, { fontFamily: '"Liberation Sans", Arial, sans-serif', fontSize: 32 }));

  // ---- Panel B ----
  const bi = spectrumGrids.length;
  grid.push({ left: 329, top: 1202, width: 1396, height: 650, show: false });
  xAxis.push({
    type: 'value', gridIndex: bi, min: 0, max: timeTicksMax, interval: 1,
    name: 'Time (min)', nameLocation: 'middle', nameGap: 27,
    nameTextStyle: { fontFamily: SERIF, fontWeight: 'bold', fontSize: 25, color: '#111', padding: [0, 0, 0, 94] },
    axisLine: { show: false },
    axisTick: { show: true, length: 6, lineStyle: { color: '#14146e', width: 1.5 } },
    axisLabel: {
      fontFamily: SANS, fontWeight: 'bold', fontSize: 14, color: '#1a1a1a', margin: 9,
      formatter: (v: number) => (v >= timeTicksMax ? '' : String(v)),
    },
    splitLine: { show: true, lineStyle: { color: '#b6b6b6', width: 1.5 } },
  });
  yAxis.push({
    type: 'value', gridIndex: bi, min: 0.65, max: 1.36, interval: 0.05, offset: 8,
    axisLine: { show: false },
    axisTick: { show: true, length: 7, lineStyle: { color: '#14146e', width: 1.5 } },
    axisLabel: {
      fontFamily: SANS, fontWeight: 'bold', fontSize: 14, color: '#1a1a1a', margin: 10,
      formatter: (v: number) => (v < 0.69 || v > 1.355 ? '' : String(parseFloat(v.toFixed(2)))),
    },
    splitLine: { show: true, lineStyle: { color: '#b6b6b6', width: 1.5 } },
  });

  const traces = [pltsTrace, usa300Trace, paeruginosaTrace, calbicansTrace];
  [0, 2, 3, 1].forEach((k) => {
    series.push({
      type: 'line', xAxisIndex: bi, yAxisIndex: bi, data: traces[k],
      showSymbol: false, clip: true, silent: true, z: 3,
      lineStyle: { color: traceColors[k], width: 1.8 },
    });
  });
  const arrowSets: [[number, number][], string][] = [
    [usa300Arrows, '#ff1a1a'],
    [calbicansArrows, '#f28a3a'],
    [paeruginosaArrows, '#14a544'],
  ];
  arrowSets.forEach(([data, color]) => {
    series.push({
      type: 'scatter', xAxisIndex: bi, yAxisIndex: bi, data,
      symbol: arrowPath, symbolSize: [14, 17], silent: true, z: 5,
      itemStyle: { color },
    });
  });

  // background and frame for panel B
  graphic.push({ type: 'rect', z: -20, silent: true, shape: { x: 237, y: 1160, width: 1502, height: 749 }, style: { fill: '#dedede' } });
  graphic.push({ type: 'rect', z: -19, silent: true, shape: { x: 321, y: 1163, width: 1411, height: 688 }, style: { fill: '#ffffff' } });
  graphic.push({ type: 'rect', z: 20, silent: true, shape: { x: 321, y: 1163, width: 1411, height: 688 }, style: { fill: 'none', stroke: '#16168a', lineWidth: 3 } });
  graphic.push({ type: 'line', z: 21, silent: true, shape: { x1: 321, y1: 1163, x2: 321, y2: 1853 }, style: { stroke: '#0c0c5e', lineWidth: 4.5 } });
  graphic.push({ type: 'line', z: 21, silent: true, shape: { x1: 319, y1: 1852, x2: 1733, y2: 1852 }, style: { stroke: '#0c0c5e', lineWidth: 5 } });
  graphic.push(textEl('x10⁻¹', 258, 1183, { fontFamily: SANS, fontWeight: 'bold', fontSize: 13, align: 'left', fill: '#1a1a1a' }));

  // legend for panel B
  const legendY = [1200, 1248, 1297, 1345];
  legendNames.forEach((name, k) => {
    graphic.push({
      type: 'line', z: 30, silent: true,
      shape: { x1: 355, y1: legendY[k], x2: 450, y2: legendY[k] },
      style: { stroke: legendLineColors[k], lineWidth: 2.5 },
    });
    graphic.push(textEl(name, 484, legendY[k] - 1, {
      fontSize: 54, fontWeight: 'bold', align: 'left', fill: legendTextColors[k], lineHeight: 42,
      rich: name.startsWith('{i|')
        ? { i: { fontStyle: 'italic', fontWeight: 'bold', fontFamily: SERIF, fontSize: 54, lineHeight: 42, fill: legendTextColors[k] } }
        : undefined,
    }));
  });

  return { animation: false, backgroundColor: '#ffffff', grid, xAxis, yAxis, series, graphic };
}

export default function App() {
  const ref = useRef<HTMLDivElement>(null);
  useEffect(() => {
    if (!ref.current) return;
    const chart = echarts.init(ref.current, null, { renderer: 'svg', width: 1920, height: 1917 });
    chart.setOption(buildOption());
    return () => chart.dispose();
  }, []);
  return (
    <div
      ref={ref}
      style={{ position: 'absolute', left: 0, top: 0, width: 1920, height: 1917, background: '#fff' }}
    />
  );
}
